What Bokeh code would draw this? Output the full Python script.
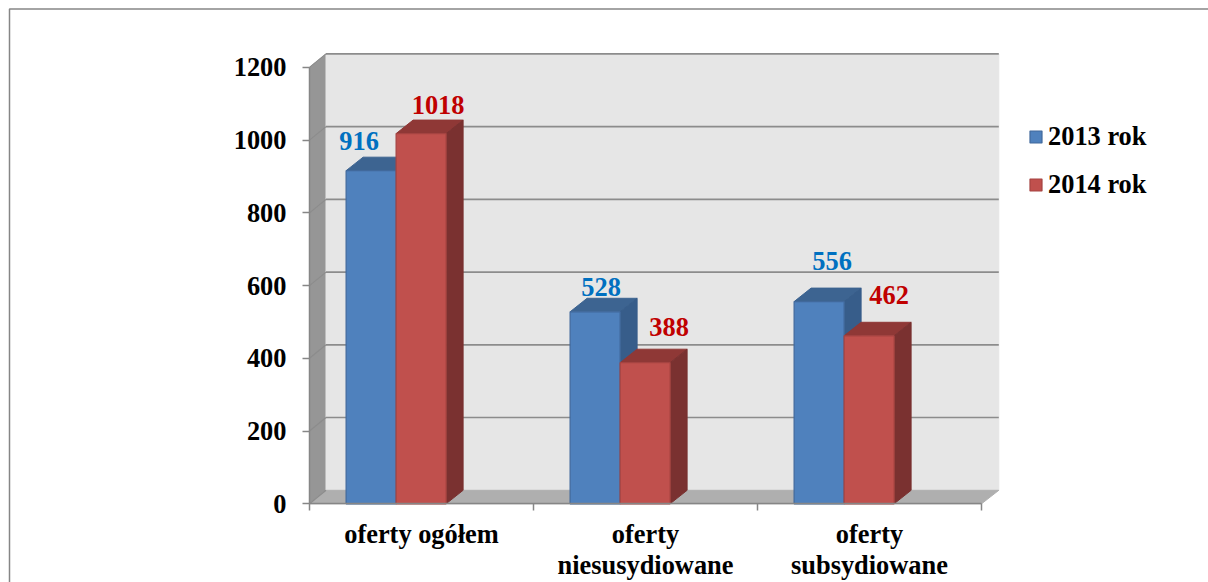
from bokeh.embed import file_html
from bokeh.resources import INLINE
from bokeh.plotting import figure
from bokeh.core.properties import value
from bokeh.models import (ColumnDataSource, FixedTicker, Legend, LegendItem,
                          BoxAnnotation)

categories = ["oferty ogółem", "oferty\nniesusydiowane", "oferty\nsubsydiowane"]
series_names = ["2013 rok", "2014 rok"]
values_2013 = [916, 528, 556]
values_2014 = [1018, 388, 462]
y_ticks = [0, 200, 400, 600, 800, 1000, 1200]

# styling / placement (pixels)
W, H = 1208, 582
OX, OY = 0, 0          # page position of the figure
AXIS_X, AXIS_Y = 309.0, 503.3   # page pixels of the axis origin
PX_X = 224.0           # pixels per category
PX_Y = 436.4 / 1200    # pixels per value unit
WALL_DX, WALL_DY = 16.5 / PX_X, 13.5 / PX_Y
BAR_DX, BAR_DY = 17 / PX_X, 13.5 / PX_Y
BAR_W = 50 / PX_X
SHIFT = -25.4 / PX_X
FONT = value("Liberation Serif")
FS = "26.4px"
offs_2013 = [(-12, 30), (6, 25), (13, 41)]
offs_2014 = [(17, 29), (24, 36), (20, 41)]

xs = list(range(len(categories)))
x0, x1 = -0.5, len(categories) - 0.5


def xd(px):
    return x0 + (px - AXIS_X) / PX_X


def yd(px):
    return (AXIS_Y - px) / PX_Y


p = figure(width=W, height=H, output_backend="svg", toolbar_location=None,
           x_range=(xd(OX), xd(OX + W)), y_range=(yd(OY + H), yd(OY)),
           min_border=0)
p.outline_line_color = None
p.grid.visible = False
p.background_fill_color = "white"

# 3D walls
ytop = y_ticks[-1]
p.patch([x0, x0 + WALL_DX, x0 + WALL_DX, x0], [0, WALL_DY, ytop + WALL_DY, ytop],
        fill_color="#969696", line_color="#969696")
wall_r = x1 + 17.3 / PX_X
p.patch([x0 + WALL_DX, wall_r, wall_r, x0 + WALL_DX],
        [WALL_DY, WALL_DY, ytop + WALL_DY, ytop + WALL_DY],
        fill_color="#e6e6e6", line_color="#e6e6e6")
p.patch([x0, x1, wall_r, x0 + WALL_DX], [0, 0, WALL_DY, WALL_DY],
        fill_color="#afafaf", line_color="#afafaf")
# gridlines on back wall and on side wall
p.multi_line([[x0 + WALL_DX, wall_r] for t in y_ticks[1:]],
             [[t + WALL_DY, t + WALL_DY] for t in y_ticks[1:]],
             line_color="#8c8c8c", line_width=1.6)
p.multi_line([[x0, x0 + WALL_DX] for t in y_ticks],
             [[t, t + WALL_DY] for t in y_ticks],
             line_color="#8c8c8c", line_width=1.2)


def bars(x_center, val, front, edge, top, side):
    left, right = x_center - BAR_W / 2, x_center + BAR_W / 2
    p.patch([left, right, right + BAR_DX, left + BAR_DX],
            [val, val, val + BAR_DY, val + BAR_DY], fill_color=top, line_color=top)
    p.patch([right, right + BAR_DX, right + BAR_DX, right],
            [0, BAR_DY, val + BAR_DY, val], fill_color=side, line_color=side)
    return p.vbar(x=[x_center], top=[val], bottom=0, width=BAR_W, fill_color=front,
                  line_color=edge, line_width=1.2)


BLUE = ("#4f81bd", "#41699c", "#3d6491", "#375d8a")
RED = ("#c0504d", "#a54341", "#8f3836", "#7a3130")
r_blue = r_red = None
for i in xs:
    r_blue = bars(i + SHIFT - BAR_W / 2, values_2013[i], *BLUE)
    r_red = bars(i + SHIFT + BAR_W / 2, values_2014[i], *RED)

# data labels
for vals, sign, offs, color in ((values_2013, -1, offs_2013, "#0070c0"),
                                (values_2014, 1, offs_2014, "#c00000")):
    src = ColumnDataSource(dict(
        x=[i + SHIFT + sign * BAR_W / 2 for i in xs], y=vals, t=[str(v) for v in vals],
        dx=[o[0] for o in offs], dy=[-o[1] for o in offs]))
    p.text("x", "y", text="t", source=src, x_offset="dx", y_offset="dy",
           text_font=FONT, text_font_style="bold", text_font_size=FS,
           text_color=color, text_align="center", text_baseline="middle")

# axes
ax = p.yaxis[0]
ax.fixed_location = x0
ax.ticker = FixedTicker(ticks=y_ticks)
ax.bounds = (0, ytop)
ax.axis_line_color = "#868686"
ax.axis_line_width = 1.5
ax.major_tick_line_color = "#868686"
ax.major_tick_line_width = 1.5
ax.major_tick_in = 0
ax.major_tick_out = 7
ax.minor_tick_line_color = None
ax.major_label_standoff = 16
ax.major_label_text_font = "Liberation Serif"
ax.major_label_text_font_style = "bold"
ax.major_label_text_font_size = FS
ax.major_label_text_color = "black"

bx = p.xaxis[0]
bx.fixed_location = 0
bx.ticker = FixedTicker(ticks=xs, minor_ticks=[i - 0.5 for i in xs] + [x1])
bx.major_label_overrides = {i: c for i, c in zip(xs, categories)}
bx.bounds = (x0, x1)
bx.axis_line_color = "#868686"
bx.axis_line_width = 1.5
bx.major_tick_line_color = None
bx.major_tick_in = 0
bx.major_tick_out = 0
bx.minor_tick_line_color = "#868686"
bx.minor_tick_line_width = 1.5
bx.minor_tick_in = 0
bx.minor_tick_out = 7
bx.major_label_standoff = 8
bx.major_label_text_line_height = 1.05
bx.major_label_text_font = "Liberation Serif"
bx.major_label_text_font_style = "bold"
bx.major_label_text_font_size = FS
bx.major_label_text_color = "black"

# legend
legend = Legend(items=[LegendItem(label=series_names[0], renderers=[r_blue]),
                       LegendItem(label=series_names[1], renderers=[r_red])],
                location=(1028 - OX, OY + H - 200), orientation="vertical",
                glyph_width=15, glyph_height=15, label_standoff=5, spacing=17,
                padding=0, margin=0, border_line_color=None,
                background_fill_color=None, background_fill_alpha=0,
                label_text_font="Liberation Serif", label_text_font_style="bold",
                label_text_font_size=FS, label_text_color="black",
                label_height=30)
p.add_layout(legend, "center")

# outer chart border, running off the page at right and bottom
p.add_layout(BoxAnnotation(left=9 - OX, right=W + 20, top=8.5 - OY, bottom=H + 20,
                           left_units="canvas", right_units="canvas",
                           top_units="canvas", bottom_units="canvas",
                           fill_alpha=0, line_color="#868686", line_width=1.5,
                           line_alpha=1, level="underlay"))

open("out.html", "w").write(file_html(p, INLINE))
